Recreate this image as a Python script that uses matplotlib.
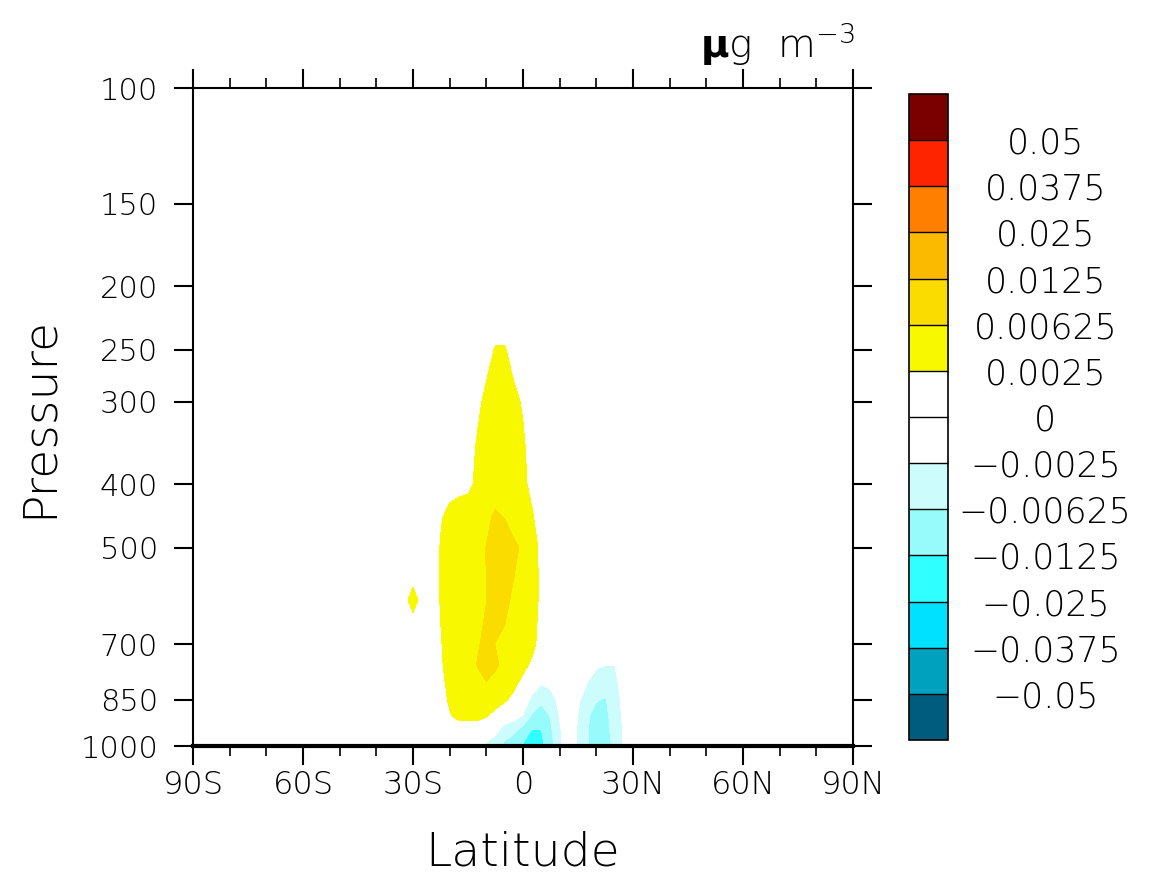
import numpy as np
import matplotlib.pyplot as plt
from matplotlib.colors import ListedColormap, BoundaryNorm
from matplotlib.ticker import FixedLocator, NullLocator, MultipleLocator

# grid
lat = [-90, -35, -30, -25, -22.5, -20, -17.5, -15, -12.5, -10, -7.5, -5, -2.5, 0,
       2.5, 5, 7.5, 10, 12.5, 15, 17.5, 20, 22.5, 25, 27.5, 30, 90]
lev = [1000, 950, 900, 850, 800, 750, 700, 600, 500, 450, 400, 350, 300, 250, 200, 100]

# values in 1e-3 ug m-3, one row per pressure level (same order as lev)
conc_1e3 = [
    [0, 0, 0, 0, 0, 0, 0, 0, 0, -3.5, -5, -7, -9.5, -13.5, -16, -14.5, -8, -3, 0, -3, -6, -8, -8.5, -5, -2.2, 0, 0],
    [0, 0, 0, 0, 0, 0, 0, 0, 0, 0, -1.5, -5, -5.5, -8.5, -13.5, -12.8, -7, -3, 0, -3, -6, -7.8, -7.8, -4.5, -2.2, 0, 0],
    [0, 0, 0, 0, 0, 2.2, 3.5, 3.6, 3.5, 2.8, 1.0, 0, -1.0, -2.8, -6.8, -9, -6, -2.3, 0, -2.6, -5.8, -7.5, -7.5, -4, -2, 0, 0],
    [0, 0, 0, 0, 1.0, 3.0, 4.5, 5.2, 5.5, 5.5, 4.5, 3.0, 1.5, 0, -3.5, -5, -4, -1.5, 0, -1.8, -4.5, -6, -6.5, -4, -1.5, 0, 0],
    [0, 0, 0, 0, 1.5, 3.5, 4.8, 5.5, 6.0, 6.2, 5.8, 4.8, 3.5, 1.5, 0, -2.2, -1.5, 0, 0, -0.5, -2.4, -4.5, -5, -3.5, -0.8, 0, 0],
    [0, 0, 0, 0.5, 2.0, 3.8, 5.0, 5.6, 6.3, 7.2, 6.5, 5.8, 5.0, 3.8, 1.8, 0, 0, 0, 0, 0, -0.8, -1.8, -2.3, -2.4, -0.5, 0, 0],
    [0, 0, 0, 0.5, 2.2, 4.0, 5.0, 5.6, 6.0, 6.8, 6.2, 5.8, 5.2, 4.5, 3.5, 1.0, 0, 0, 0, 0, 0, 0, 0, 0, 0, 0, 0],
    [0, 0, 3.4, 0, 2.7, 4.5, 5.2, 5.6, 5.8, 6.2, 7.5, 6.8, 5.8, 4.8, 3.8, 1.8, 0, 0, 0, 0, 0, 0, 0, 0, 0, 0, 0],
    [0, 0, 0, 0, 2.7, 4.5, 5.0, 5.5, 5.8, 6.3, 7.8, 7.5, 6.8, 5.8, 4.2, 1.5, 0, 0, 0, 0, 0, 0, 0, 0, 0, 0, 0],
    [0, 0, 0, 0, 2.2, 3.5, 4.2, 4.8, 5.2, 5.8, 6.6, 6.2, 5.2, 4.2, 2.9, 0.5, 0, 0, 0, 0, 0, 0, 0, 0, 0, 0, 0],
    [0, 0, 0, 0, 0.5, 1.3, 1.5, 1.6, 3.2, 4.2, 5.2, 5.2, 4.5, 3.3, 1.5, 0, 0, 0, 0, 0, 0, 0, 0, 0, 0, 0, 0],
    [0, 0, 0, 0, 0, 0.5, 0.8, 1.0, 2.8, 3.8, 4.5, 4.5, 3.8, 2.9, 1.2, 0, 0, 0, 0, 0, 0, 0, 0, 0, 0, 0, 0],
    [0, 0, 0, 0, 0, 0, 0, 0.5, 1.8, 3.2, 3.8, 3.8, 3.2, 2.2, 0.8, 0, 0, 0, 0, 0, 0, 0, 0, 0, 0, 0, 0],
    [0, 0, 0, 0, 0, 0, 0, 0, 0.8, 1.5, 2.7, 2.7, 1.5, 0.8, 0, 0, 0, 0, 0, 0, 0, 0, 0, 0, 0, 0, 0],
    [0, 0, 0, 0, 0, 0, 0, 0, 0, 0, 0, 0, 0, 0, 0, 0, 0, 0, 0, 0, 0, 0, 0, 0, 0, 0, 0],
    [0, 0, 0, 0, 0, 0, 0, 0, 0, 0, 0, 0, 0, 0, 0, 0, 0, 0, 0, 0, 0, 0, 0, 0, 0, 0, 0],
]

levels = [-0.05, -0.0375, -0.025, -0.0125, -0.00625, -0.0025, 0,
          0.0025, 0.00625, 0.0125, 0.025, 0.0375, 0.05]
level_labels = ['\u22120.05', '\u22120.0375', '\u22120.025', '\u22120.0125', '\u22120.00625',
                '\u22120.0025', '0', '0.0025', '0.00625', '0.0125', '0.025', '0.0375', '0.05']
colors = ['#005c7e', '#00a0bf', '#00e0ff', '#30ffff', '#98fbfb', '#ccfcfc', '#ffffff',
          '#ffffff', '#f8f800', '#fadc00', '#fbba00', '#ff8000', '#ff2400', '#7a0000']

xticks = [-90, -60, -30, 0, 30, 60, 90]
xticklabels = ['90S', '60S', '30S', '0', '30N', '60N', '90N']
pticks = [1000, 850, 700, 500, 400, 300, 250, 200, 150, 100]

z = np.array(conc_1e3) * 1e-3

cmap = ListedColormap(colors[1:-1])
cmap.set_under(colors[0])
cmap.set_over(colors[-1])
norm = BoundaryNorm(levels, cmap.N)

plt.rcParams['font.family'] = 'DejaVu Sans'
plt.rcParams['font.weight'] = 'light'
plt.rcParams['axes.labelweight'] = 'light'
plt.rcParams['mathtext.fontset'] = 'dejavusans'
fig = plt.figure(figsize=(11.56, 8.82), dpi=100)
ax = fig.add_axes([193/1156, 1-746/882, 660/1156, 658/882])
cf = ax.contourf(lat, lev, z, levels=levels, cmap=cmap, norm=norm, extend='both')

ax.set_yscale('log')
ax.set_ylim(1000, 100)
ax.set_xlim(-90, 90)
ax.yaxis.set_major_locator(FixedLocator(pticks))
ax.yaxis.set_minor_locator(NullLocator())
ax.set_yticklabels([str(p) for p in pticks])
ax.set_xticks(xticks)
ax.set_xticklabels(xticklabels)
ax.xaxis.set_minor_locator(MultipleLocator(10))

ax.tick_params(axis='x', which='major', direction='out', length=14, width=1.5,
               top=True, bottom=True, labelsize=23, pad=3)
ax.tick_params(axis='x', which='minor', direction='out', length=7, width=1.2,
               top=True, bottom=True)
ax.tick_params(axis='y', which='major', direction='out', length=14, width=1.5,
               left=True, right=True, labelsize=22, pad=11)
for s in ax.spines.values():
    s.set_linewidth(1.5)
ax.spines['bottom'].set_linewidth(3)

ax.set_xlabel('Latitude', fontsize=34, fontweight='light', labelpad=22)
ax.set_ylabel('Pressure', fontsize=34, fontweight='light', labelpad=14)

fig.text(855/1156, 1-58/882, r'$\mathbf{μ}\mathrm{g\ \ m}^{-3}$', fontsize=28,
         ha='right', va='baseline')

cax = fig.add_axes([909/1156, 1-740/882, 39/1156, 646/882])
cbar = fig.colorbar(cf, cax=cax, extendrect=True, extendfrac='auto', drawedges=True)
cbar.set_ticks(levels)
cbar.ax.set_yticklabels(level_labels, ha='center')
cbar.ax.tick_params(length=0, pad=70, labelsize=25)
cbar.outline.set_linewidth(1.2)
cbar.dividers.set_linewidth(1)

fig.savefig('out.png', dpi=100)
